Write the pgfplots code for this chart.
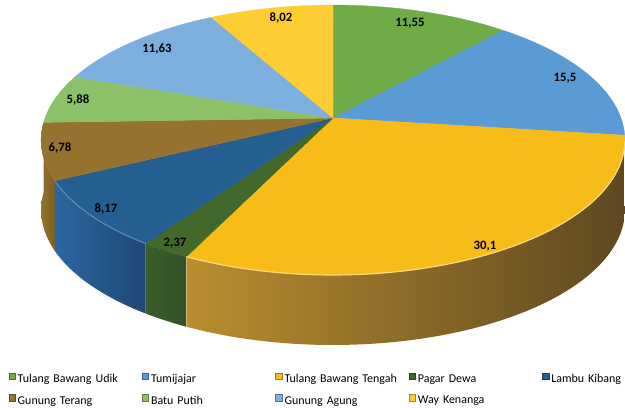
\documentclass[border=0pt]{standalone}
\usepackage{fontspec}
\setmainfont{Carlito}
\usepackage{pgfplots}
\pgfplotsset{compat=1.18}
\usepackage{pgfplotstable}

% top colours
\definecolor{cA}{HTML}{6FAB46}
\definecolor{cB}{HTML}{5B9BD5}
\definecolor{cC}{HTML}{F7BC17}
\definecolor{cD}{HTML}{43682B}
\definecolor{cE}{HTML}{255E91}
\definecolor{cF}{HTML}{95732E}
\definecolor{cG}{HTML}{8CC168}
\definecolor{cH}{HTML}{7CAFDD}
\definecolor{cI}{HTML}{FDCD34}
% side colours
\definecolor{sCl}{HTML}{BA8E2F}\definecolor{sCm}{HTML}{745A26}\definecolor{sCr}{HTML}{5E4821}
\definecolor{sDl}{HTML}{3C5E29}\definecolor{sDr}{HTML}{32502A}
\definecolor{sEl}{HTML}{2C66A0}\definecolor{sEr}{HTML}{1D4876}
\definecolor{sFl}{HTML}{94732E}\definecolor{sFr}{HTML}{7C5F24}

\pgfplotstableread[col sep=comma]{
name,value
Tulang Bawang Udik,11.55
Tumijajar,15.5
Tulang Bawang Tengah,30.1
Pagar Dewa,2.37
Lambu Kibang,8.17
Gunung Terang,6.78
Batu Putih,5.88
Gunung Agung,11.63
Way Kenanga,8.02
}\piedata

% geometry of the tilted pie (pixel units, y downwards)
\def\cx{333}\def\cy{118}\def\rx{288}\def\ry{131.4}\def\ee{0.163}\def\th{70}
\newcommand\PX[1]{\cx+\rx*sin(#1)/(1+\ee*cos(#1))}
\newcommand\PY[1]{\cy-\ry*cos(#1)/(1+\ee*cos(#1))}

% cumulative angles (clockwise from 12 o'clock)
\gdef\startang{0}
\pgfplotsforeachungrouped \i in {0,...,8}{%
  \pgfplotstablegetelem{\i}{value}\of\piedata
  \pgfmathsetmacro\endang{\startang+3.6*\pgfplotsretval}%
  \expandafter\xdef\csname pieA\i\endcsname{\startang}%
  \expandafter\xdef\csname pieB\i\endcsname{\endang}%
  \xdef\startang{\endang}%
}

% side wall: top rim A->B, then bottom rim B->A (parameter s in 0..200)
\def\PH{(\SA+(\SB-\SA)*min(\noexpand\s,200-\noexpand\s)/100)}
\newcommand\pieside[2]{%
  \edef\SA{\csname pieA#1\endcsname}\edef\SB{\csname pieB#1\endcsname}%
  \edef\temp{\noexpand\addplot[forget plot, draw=none, #2, samples at={0,1,...,100,100.01,101,102,...,200}, variable=\noexpand\s]
    ({\cx+\rx*sin(\PH)/(1+\ee*cos(\PH))},
     {\cy-\ry*cos(\PH)/(1+\ee*cos(\PH))+\th*(\noexpand\s>100.005)}) -- cycle;}%
  \temp
}
\newcommand\pietop[2]{%
  \addplot[forget plot, fill=#2, draw=#2, line width=0.3bp, line join=round, domain=\csname pieA#1\endcsname:\csname pieB#1\endcsname, samples=60, variable=\t] ({\PX{\t}},{\PY{\t}}) -- (axis cs:\cx,\cy) -- cycle;
}

\begin{document}
\begin{tikzpicture}
\begin{axis}[
  x=1bp, y=1bp, xmin=0, xmax=625, ymin=0, ymax=408, y dir=reverse,
  hide axis, clip=false, anchor=south west, at={(0,0)},
  legend columns=5,
  legend cell align=left,
  legend image code/.code={\draw[#1, line width=0.5bp] (0bp,0bp) rectangle (6.5bp,6.5bp);},
  legend style={draw=none, fill=none, inner sep=0pt, outer sep=0pt,
    at={(axis cs:8.5,372.5)}, anchor=north west,
    font=\fontsize{12}{14}\selectfont, row sep=9bp, column sep=0bp,
    nodes={inner xsep=2.2bp, inner ysep=1bp, text width=122bp}},
]
% side walls of the front slices
\pieside{2}{left color=sCl, middle color=sCm, right color=sCr}
\pieside{5}{left color=sFl, right color=sFr}
\pieside{4}{left color=sEl, right color=sEr}
\pieside{3}{left color=sDl, right color=sDr}
% top faces
\pietop{0}{cA}
\pietop{1}{cB}
\pietop{2}{cC}
\pietop{3}{cD}
\pietop{4}{cE}
\pietop{5}{cF}
\pietop{6}{cG}
\pietop{7}{cH}
\pietop{8}{cI}
% rim highlights
\addplot[forget plot, draw=cC!55!white, line width=1.2bp, domain=100:\csname pieB2\endcsname, samples=50, variable=\t] ({\PX{\t}},{\PY{\t}});
\addplot[forget plot, draw=cE!70!white, line width=1bp, domain=\csname pieA4\endcsname:\csname pieB4\endcsname, samples=40, variable=\t] ({\PX{\t}},{\PY{\t}});
% data labels
\begin{scope}[every node/.style={font=\bfseries\fontsize{12.8}{14}\selectfont, inner sep=0pt}]
\node at (axis cs:410,23) {11,55};
\node at (axis cs:565,78) {15,5};
\node at (axis cs:485,246) {30,1};
\node at (axis cs:175,243) {2,37};
\node at (axis cs:106,209) {8,17};
\node at (axis cs:60,148) {6,78};
\node at (axis cs:78,100) {5,88};
\node at (axis cs:157,49) {11,63};
\node at (axis cs:281,18) {8,02};
\end{scope}
% legend
\addlegendimage{fill=cA, draw=cA!65!black}
\addlegendentry{Tulang Bawang Udik}
\addlegendimage{fill=cB, draw=cB!65!black}
\addlegendentry{Tumijajar}
\addlegendimage{fill=cC, draw=cC!65!black}
\addlegendentry{Tulang Bawang Tengah}
\addlegendimage{fill=cD, draw=cD!65!black}
\addlegendentry{Pagar Dewa}
\addlegendimage{fill=cE, draw=cE!65!black}
\addlegendentry{Lambu Kibang}
\addlegendimage{fill=cF, draw=cF!65!black}
\addlegendentry{Gunung Terang}
\addlegendimage{fill=cG, draw=cG!65!black}
\addlegendentry{Batu Putih}
\addlegendimage{fill=cH, draw=cH!65!black}
\addlegendentry{Gunung Agung}
\addlegendimage{fill=cI, draw=cI!65!black}
\addlegendentry{Way Kenanga}
\end{axis}
\pgfresetboundingbox
\useasboundingbox (0,0) rectangle (625bp,408bp);
\end{tikzpicture}
\end{document}
